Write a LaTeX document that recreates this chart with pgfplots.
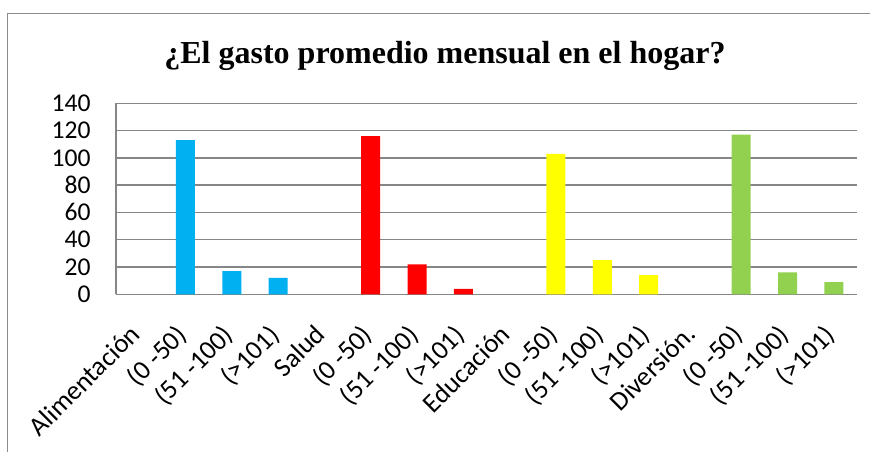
\documentclass[border=0pt]{standalone}
\usepackage{fontspec}
\setmainfont{Carlito}
\newfontfamily\titlefont{Liberation Serif}
\usepackage{pgfplots}
\pgfplotsset{compat=1.18}
\definecolor{cblue}{RGB}{0,176,240}
\definecolor{cred}{RGB}{255,0,0}
\definecolor{cyellow}{RGB}{255,255,0}
\definecolor{cgreen}{RGB}{146,208,80}
\definecolor{gridgray}{RGB}{134,134,134}
\definecolor{framegray}{RGB}{140,140,140}

\begin{document}
\begin{tikzpicture}
% 1 px of the reference = 0.5pt
\path[use as bounding box] (0,0) rectangle (435pt,225.5pt);
\draw[framegray, line width=0.75pt] (3.7pt,-2pt) -- (3.7pt,218.85pt) -- (440pt,218.85pt);
\node[anchor=base, font=\titlefont\bfseries\fontsize{16}{19}\selectfont]
  at (222.5pt,194pt) {¿El gasto promedio mensual en el hogar?};

\begin{axis}[
  at={(58pt,78.35pt)}, anchor=south west,
  scale only axis, width=370.5pt, height=95.5pt,
  xmin=-0.5, xmax=15.5, ymin=0, ymax=140,
  ytick={0,20,...,140},
  xtick={0,...,15},
  xticklabels={Alimentación,(0 -50),(51 -100),(>101),Salud,(0 -50),(51 -100),(>101),
    Educación,(0 -50),(51 -100),(>101),Diversión.,(0 -50),(51 -100),(>101)},
  ymajorgrids, grid style={gridgray, line width=0.75pt},
  axis lines=left, axis line style={-, draw=gridgray, line width=0.75pt},
  major tick length=0pt,
  tick label style={font=\fontsize{12.8}{15}\selectfont},
  xticklabel style={font=\fontsize{13.4}{15}\selectfont},
  /pgf/number format/assume math mode=true,
  yticklabel style={inner sep=0pt, xshift=-12.5pt},
  xticklabel style={inner sep=0pt, xshift=-5.5pt, yshift=-14pt, rotate=45, anchor=north east},
  ybar, bar width=0.41,
]
% Alimentación
\addplot[ybar, bar shift=0pt, fill=cblue, draw=none] coordinates {(1,113) (2,17) (3,12)};
% Salud
\addplot[ybar, bar shift=0pt, fill=cred, draw=none] coordinates {(5,116) (6,22) (7,4)};
% Educación
\addplot[ybar, bar shift=0pt, fill=cyellow, draw=none] coordinates {(9,103) (10,25) (11,14)};
% Diversión
\addplot[ybar, bar shift=0pt, fill=cgreen, draw=none] coordinates {(13,117) (14,16) (15,9)};
\end{axis}
\end{tikzpicture}
\end{document}
